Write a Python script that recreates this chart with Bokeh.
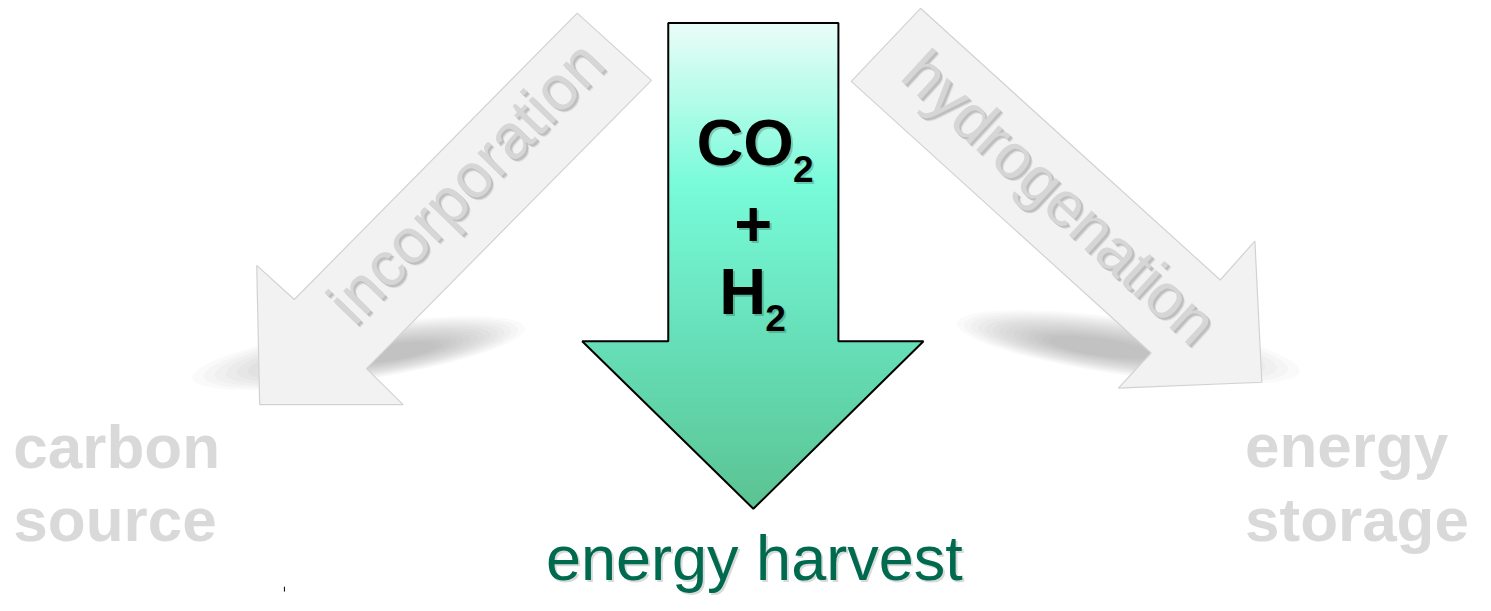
import numpy as np
from bokeh.plotting import figure
from bokeh.models import Range1d
from bokeh.core.properties import value
from bokeh.embed import file_html
from bokeh.resources import INLINE

W, H = 1491, 611
FONT = value("Liberation Sans")
BASE_FIX = 0.40  # empirical correction of the alphabetic baseline (fraction of font size)

# ---- shapes (reference pixel coordinates, y downwards) ----
main_arrow_x = [675, 847, 847, 933, 761, 588, 675]
main_arrow_y = [23, 23, 350, 350, 522, 350, 350]
left_arrow_x = [583, 658, 370, 407, 262, 259, 297]
left_arrow_y = [13, 82, 378, 415, 415, 272, 307]
right_arrow_x = [930, 1233, 1268, 1275, 1130, 1163, 860]
right_arrow_y = [8, 287, 247, 392, 398, 362, 83]

grad_stop_y = [23, 190, 350, 522]
grad_stop_colors = ["#eafdf8", "#78fbd9", "#66dfb8", "#5bc392"]

# shadows: (cx, cy, length, thickness, angle_deg)
shadows = [(362, 362, 340, 56, 8.6), (1140, 356, 350, 58, -8.0)]

# ---- texts ----
side_labels = ["carbon", "source", "energy", "storage"]
side_x = [13, 13, 1258, 1258]
side_y = [483, 558, 482, 558]

arrow_words = ["incorporation", "hydrogenation"]
arrow_word_x = [470, 1071]
arrow_word_y = [186, 202]
arrow_word_angle = [45.8, -42.6]

bottom_label = "energy harvest"

p = figure(width=1475, height=595, x_range=Range1d(0, W), y_range=Range1d(H, 0),
           output_backend="svg", toolbar_location=None, min_border=0,
           x_axis_location=None, y_axis_location=None)
p.xgrid.visible = False
p.ygrid.visible = False
p.outline_line_color = None
p.background_fill_color = "white"
p.border_fill_color = "white"


def by(y, size):
    return y - BASE_FIX * size / 0.974


# ---- soft shadows under grey arrows ----
for (cx, cy, L, T, ang) in shadows:
    n = 14
    for i in range(n):
        f = 1.0 - 0.7 * i / (n - 1)
        p.ellipse(x=[cx + (1 - f) * 40 * np.sign(ang)], y=[cy], width=L * f, height=T * f,
                  angle=ang, angle_units="deg", fill_color="#707070",
                  fill_alpha=0.035, line_color=None)

# ---- grey arrows ----
p.patch(left_arrow_x, left_arrow_y, fill_color="#f2f2f2", line_color="#d2d2d2", line_width=1.2)
p.patch(right_arrow_x, right_arrow_y, fill_color="#f2f2f2", line_color="#d2d2d2", line_width=1.2)

# ---- arrow words with soft shadow ----
for dx, dy, a in [(3, 3, 0.16), (2, 2, 0.26)]:
    p.text(x=[x + dx for x in arrow_word_x], y=[y + dy for y in arrow_word_y], text=arrow_words,
           angle=arrow_word_angle, angle_units="deg", text_font=FONT, text_font_size="63px",
           text_color="#6a6a6a", text_alpha=a, text_align="center", text_baseline="middle")
p.text(x=arrow_word_x, y=arrow_word_y, text=arrow_words,
       angle=arrow_word_angle, angle_units="deg", text_font=FONT, text_font_size="63px",
       text_color="#d6d6d6", text_align="center", text_baseline="middle")

# ---- main arrow gradient ----
def hex2rgb(h):
    h = h.lstrip("#")
    return np.array([int(h[i:i + 2], 16) for i in (0, 2, 4)], dtype=float)

stops_rgb = [hex2rgb(c) for c in grad_stop_colors]

def color_at(y):
    r = [np.interp(y, grad_stop_y, [c[k] for c in stops_rgb]) for k in range(3)]
    return "#%02x%02x%02x" % tuple(int(round(v)) for v in r)

def bounds(y):
    joint, tip = main_arrow_y[2], main_arrow_y[4]
    if y <= joint:
        return main_arrow_x[0], main_arrow_x[1]
    t = (y - joint) / (tip - joint)
    lx = main_arrow_x[5] + (main_arrow_x[4] - main_arrow_x[5]) * t
    rx = main_arrow_x[3] - (main_arrow_x[3] - main_arrow_x[4]) * t
    return lx, rx

xs, ys, cols = [], [], []
step = 3
edges_shaft = list(np.arange(main_arrow_y[0], main_arrow_y[2], step)) + [main_arrow_y[2]]
edges_head = list(np.arange(main_arrow_y[2], main_arrow_y[4], step)) + [main_arrow_y[4]]
for edges, head in [(edges_shaft, False), (edges_head, True)]:
    for y0, y1 in zip(edges[:-1], edges[1:]):
        if head:
            l0, r0 = bounds(y0 + 1e-6)
        else:
            l0, r0 = bounds(y0)
        l1, r1 = bounds(y1)
        xs.append([l0, r0, r1, l1])
        ys.append([y0 - 0.4, y0 - 0.4, y1 + 0.4, y1 + 0.4])
        cols.append(color_at((y0 + y1) / 2))
p.patches(xs, ys, fill_color=cols, line_color=None)
p.patch(main_arrow_x + [main_arrow_x[0]], main_arrow_y + [main_arrow_y[0]],
        fill_alpha=0, line_color="black", line_width=2)

# ---- formula on main arrow ----
def shadowed(x, y, t, size, align, color="black"):
    yy = by(y, size)
    p.text(x=[x + 2], y=[yy + 2], text=[t], text_font=FONT, text_font_size=f"{size}px",
           text_font_style="bold", text_color="#000000", text_alpha=0.2,
           text_align=align, text_baseline="alphabetic")
    p.text(x=[x], y=[yy], text=[t], text_font=FONT, text_font_size=f"{size}px",
           text_font_style="bold", text_color=color,
           text_align=align, text_baseline="alphabetic")

shadowed(802, 173, "CO", 65, "right")
shadowed(801, 188, "2", 37, "left")
shadowed(761, 256, "+", 65, "center")
shadowed(774, 326, "H", 65, "right")
shadowed(773, 341, "2", 37, "left")

# ---- side labels ----
p.text(x=side_x, y=[by(y, 62) for y in side_y], text=side_labels, text_font=FONT,
       text_font_size="62px", text_font_style="bold", text_color="#d9d9d9",
       text_align="left", text_baseline="alphabetic")

# ---- bottom label ----
p.text(x=[764], y=[by(600, 63)], text=[bottom_label], text_font=FONT, text_font_size="63px",
       text_color="#000000", text_alpha=0.15, text_align="center", text_baseline="alphabetic")
p.text(x=[762], y=[by(598, 63)], text=[bottom_label], text_font=FONT, text_font_size="63px",
       text_color="#006a4e", text_align="center", text_baseline="alphabetic")

# tiny stray mark
p.segment(x0=[287], y0=[602], x1=[287], y1=[607], line_color="black", line_width=1)

open("out.html", "w").write(file_html(p, INLINE))
